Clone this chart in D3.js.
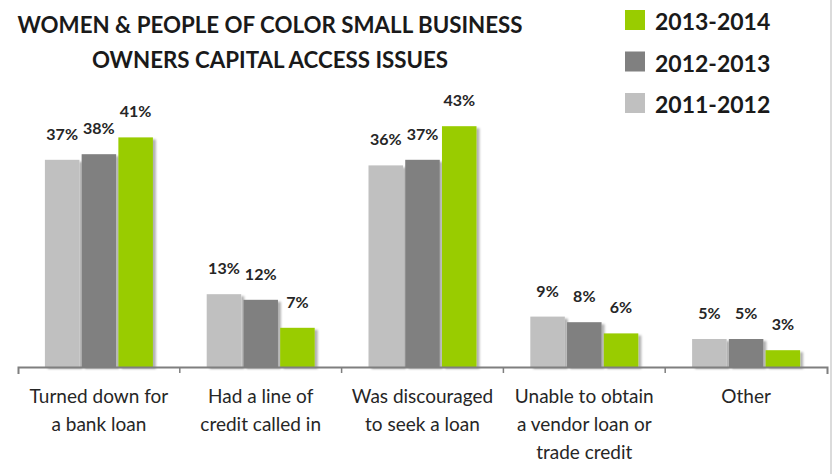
<!DOCTYPE html>
<html>
<head>
<meta charset="utf-8">
<script src="https://cdn.jsdelivr.net/npm/d3@7"></script>
<style>
  html, body { margin: 0; padding: 0; background: #fff; }
  svg { display: block; }
</style>
</head>
<body>
<div id="chart"></div>
<script>
// Capital access issues reported by women & people of color small business owners
const categories = [
  ["Turned down for", "a bank loan"],
  ["Had a line of", "credit called in"],
  ["Was discouraged", "to seek a loan"],
  ["Unable to obtain", "a vendor loan or", "trade credit"],
  ["Other"]
];
const series = ["2011-2012", "2012-2013", "2013-2014"];
const values2011 = [37, 13, 36, 9, 5];
const values2012 = [38, 12, 37, 8, 5];
const values2013 = [41, 7, 43, 6, 3];
const seriesColors = ["#c0c0c0", "#808080", "#99cc00"];
const legendOrder = ["2013-2014", "2012-2013", "2011-2012"];
const titleLines = ["WOMEN & PEOPLE OF COLOR SMALL BUSINESS", "OWNERS CAPITAL ACCESS ISSUES"];

const W = 834, H = 474;
const svg = d3.select("#chart").append("svg").attr("width", W).attr("height", H);

const defs = svg.append("defs");
const f = defs.append("filter").attr("id", "shadow")
  .attr("x", "-20%").attr("y", "-20%").attr("width", "150%").attr("height", "140%");
f.append("feDropShadow").attr("dx", 3).attr("dy", 2).attr("stdDeviation", 1)
  .attr("flood-color", "#000").attr("flood-opacity", 0.3);

// right border rule
svg.append("line").attr("x1", 831).attr("x2", 831).attr("y1", 0).attr("y2", H)
  .attr("stroke", "#cfcfcf").attr("stroke-width", 1.5);

const catKeys = categories.map(c => c.join(" "));
const valuesBySeries = { "2011-2012": values2011, "2012-2013": values2012, "2013-2014": values2013 };
const color = d3.scaleOrdinal().domain(series).range(seriesColors);

const x0 = d3.scaleBand().domain(catKeys).range([18, 827]).padding(0);
const groupW = 108;
const x1 = d3.scaleBand().domain(series).range([0, groupW]).paddingInner(0.06);
const y = d3.scaleLinear().domain([0, 10]).range([367, 311]);

const data = catKeys.map((k, i) => ({
  key: k,
  lines: categories[i],
  vals: series.map(s => ({ s, v: valuesBySeries[s][i] }))
}));

const groups = svg.append("g").selectAll("g").data(data).join("g")
  .attr("transform", d => `translate(${x0(d.key) + (x0.bandwidth() - groupW) / 2},0)`);

groups.selectAll("rect").data(d => d.vals).join("rect")
  .attr("x", d => x1(d.s))
  .attr("y", d => y(d.v))
  .attr("width", x1.bandwidth())
  .attr("height", d => y(0) - y(d.v))
  .attr("fill", d => color(d.s))
  .attr("filter", "url(#shadow)");

groups.selectAll("text.val").data(d => d.vals).join("text")
  .attr("class", "val")
  .attr("x", d => x1(d.s) + x1.bandwidth() / 2)
  .attr("y", d => y(d.v) - 20)
  .attr("text-anchor", "middle")
  .attr("font-family", "Lato, sans-serif")
  .attr("font-weight", "bold")
  .attr("font-size", 16)
  .attr("fill", "#262626")
  .text(d => d.v + "%");

// category axis with outer hooks, plus boundary ticks between groups
const axis = d3.axisBottom(x0).tickSize(0).tickSizeOuter(7).tickFormat("");
const ax = svg.append("g").attr("transform", `translate(0,${y(0)})`).call(axis);
ax.select(".domain").attr("stroke", "#7f7f7f").attr("stroke-width", 2);
ax.selectAll(".tick").remove();
svg.append("g").selectAll("line").data(catKeys.slice(1)).join("line")
  .attr("x1", d => x0(d)).attr("x2", d => x0(d))
  .attr("y1", y(0)).attr("y2", y(0) + 6)
  .attr("stroke", "#7f7f7f").attr("stroke-width", 1.5);

// category labels
svg.append("g").selectAll("text").data(data).join("text")
  .attr("x", d => x0(d.key) + x0.bandwidth() / 2)
  .attr("y", 403)
  .attr("text-anchor", "middle")
  .attr("font-family", "Lato, sans-serif")
  .attr("font-size", 19)
  .attr("fill", "#262626")
  .selectAll("tspan").data(d => d.lines).join("tspan")
  .attr("x", function() { return this.parentNode.getAttribute("x"); })
  .attr("dy", (d, i) => i === 0 ? 0 : 28)
  .text(d => d);

// title
svg.append("g").selectAll("text").data(titleLines).join("text")
  .attr("x", 270)
  .attr("y", (d, i) => 33 + i * 35)
  .attr("text-anchor", "middle")
  .attr("font-family", "Lato, sans-serif")
  .attr("font-weight", "bold")
  .attr("font-size", 22.3)
  .attr("fill", "#1a1a1a")
  .text(d => d);

// legend
const lg = svg.append("g").selectAll("g").data(legendOrder).join("g")
  .attr("transform", (d, i) => `translate(625,${10 + i * 41.5})`);
lg.append("rect").attr("width", 20).attr("height", 20).attr("fill", d => color(d));
lg.append("text").attr("x", 30).attr("y", 20)
  .attr("font-family", "Lato, sans-serif")
  .attr("font-weight", "bold")
  .attr("font-size", 23)
  .attr("fill", "#1a1a1a")
  .text(d => d);
</script>
</body>
</html>
